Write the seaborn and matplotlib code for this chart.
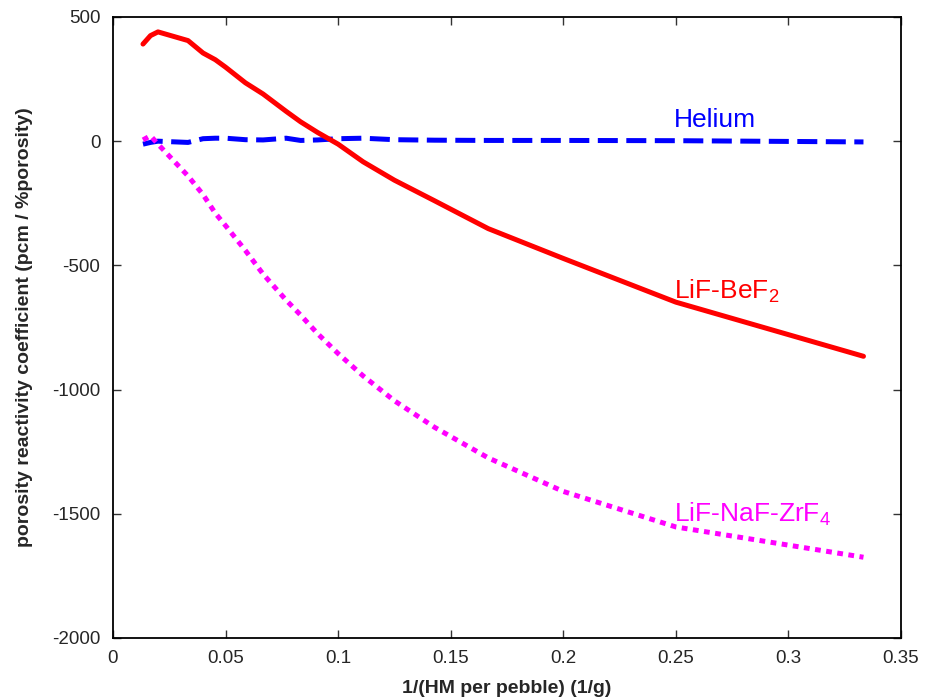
import numpy as np
import pandas as pd
import matplotlib
matplotlib.use("Agg")
import matplotlib.pyplot as plt
import seaborn as sns

# ==========================================
# DATA
# ==========================================
# x = 1/(HM per pebble) in 1/g
inv_hm = [1/75, 1/60, 1/50, 1/30, 1/25, 1/22, 1/20, 1/17, 1/15, 1/13,
          1/12, 1/11, 1/10, 1/9, 1/8, 1/7, 1/6, 1/5, 1/4, 1/3]

helium = [-12, -5, 0, -5, 10, 12, 12, 6, 5, 12,
          3, 5, 10, 12, 6, 4, 3, 3, 2, -3]

lif_bef2 = [391, 425, 440, 405, 355, 328, 298, 235, 190, 120,
            78, 35, -12, -83, -157, -240, -352, -472, -648, -866]

lif_naf_zrf4 = [5, 22, -12, -140, -215, -290, -340, -440, -535, -640,
                -700, -775, -855, -945, -1045, -1152, -1275, -1410, -1553, -1675]

x_ticks = [0, 0.05, 0.1, 0.15, 0.2, 0.25, 0.3, 0.35]
x_tick_labels = ['0', '0.05', '0.1', '0.15', '0.2', '0.25', '0.3', '0.35']
y_ticks = [-2000, -1500, -1000, -500, 0, 500]

df = pd.DataFrame({
    'x': inv_hm,
    'Helium': helium,
    'LiF-BeF2': lif_bef2,
    'LiF-NaF-ZrF4': lif_naf_zrf4,
})

# ==========================================
# PLOT
# ==========================================
sns.set_style("ticks")
plt.rcParams['font.family'] = ['Liberation Sans', 'DejaVu Sans']
plt.rcParams['mathtext.fontset'] = 'custom'
plt.rcParams['mathtext.rm'] = 'Liberation Sans'
plt.rcParams['axes.unicode_minus'] = False

fig = plt.figure(figsize=(9.26, 6.99), dpi=100)
ax = fig.add_axes([0.122, 0.0873, 0.851, 0.8884])

lw = 3.6
# Helium - blue dashed
sns.lineplot(data=df, x='x', y='Helium', color='#0000ff', linewidth=lw,
             sort=False, estimator=None, ax=ax)
ax.lines[-1].set_dashes((4.0, 1.7))

# LiF-BeF2 - red solid
sns.lineplot(data=df, x='x', y='LiF-BeF2', color='#ff0000', linewidth=lw,
             sort=False, estimator=None, ax=ax)

# LiF-NaF-ZrF4 - magenta dotted
sns.lineplot(data=df, x='x', y='LiF-NaF-ZrF4', color='#ff00ff', linewidth=lw,
             sort=False, estimator=None, ax=ax)
ax.lines[-1].set_dashes((1.15, 1.1))
ax.lines[-1].set_dash_capstyle('butt')

# curve labels
ax.text(0.2493, 86, 'Helium', color='#0000ff', fontsize=19, va='center', ha='left')
ax.text(0.2493, -603, 'LiF-BeF$_2$', color='#ff0000', fontsize=19, va='center', ha='left')
ax.text(0.2493, -1500, 'LiF-NaF-ZrF$_4$', color='#ff00ff', fontsize=19, va='center', ha='left')

ax.set_xlim(0, 0.35)
ax.set_ylim(-2000, 500)
ax.set_xticks(x_ticks)
ax.set_xticklabels(x_tick_labels)
ax.set_yticks(y_ticks)

ax.set_xlabel('1/(HM per pebble) (1/g)', fontsize=14, fontweight='bold', labelpad=9)
ax.set_ylabel('porosity reactivity coefficient (pcm / %porosity)', fontsize=14,
              fontweight='bold', labelpad=14)

ax.tick_params(direction='in', top=True, right=True, length=6, width=1,
               labelsize=13.5, color='#333333')
ax.tick_params(axis='x', pad=9)
ax.tick_params(axis='y', pad=9)
for s in ax.spines.values():
    s.set_linewidth(1.3)
    s.set_color('black')
    s.set_visible(True)

fig.savefig('out.png', dpi=100)
